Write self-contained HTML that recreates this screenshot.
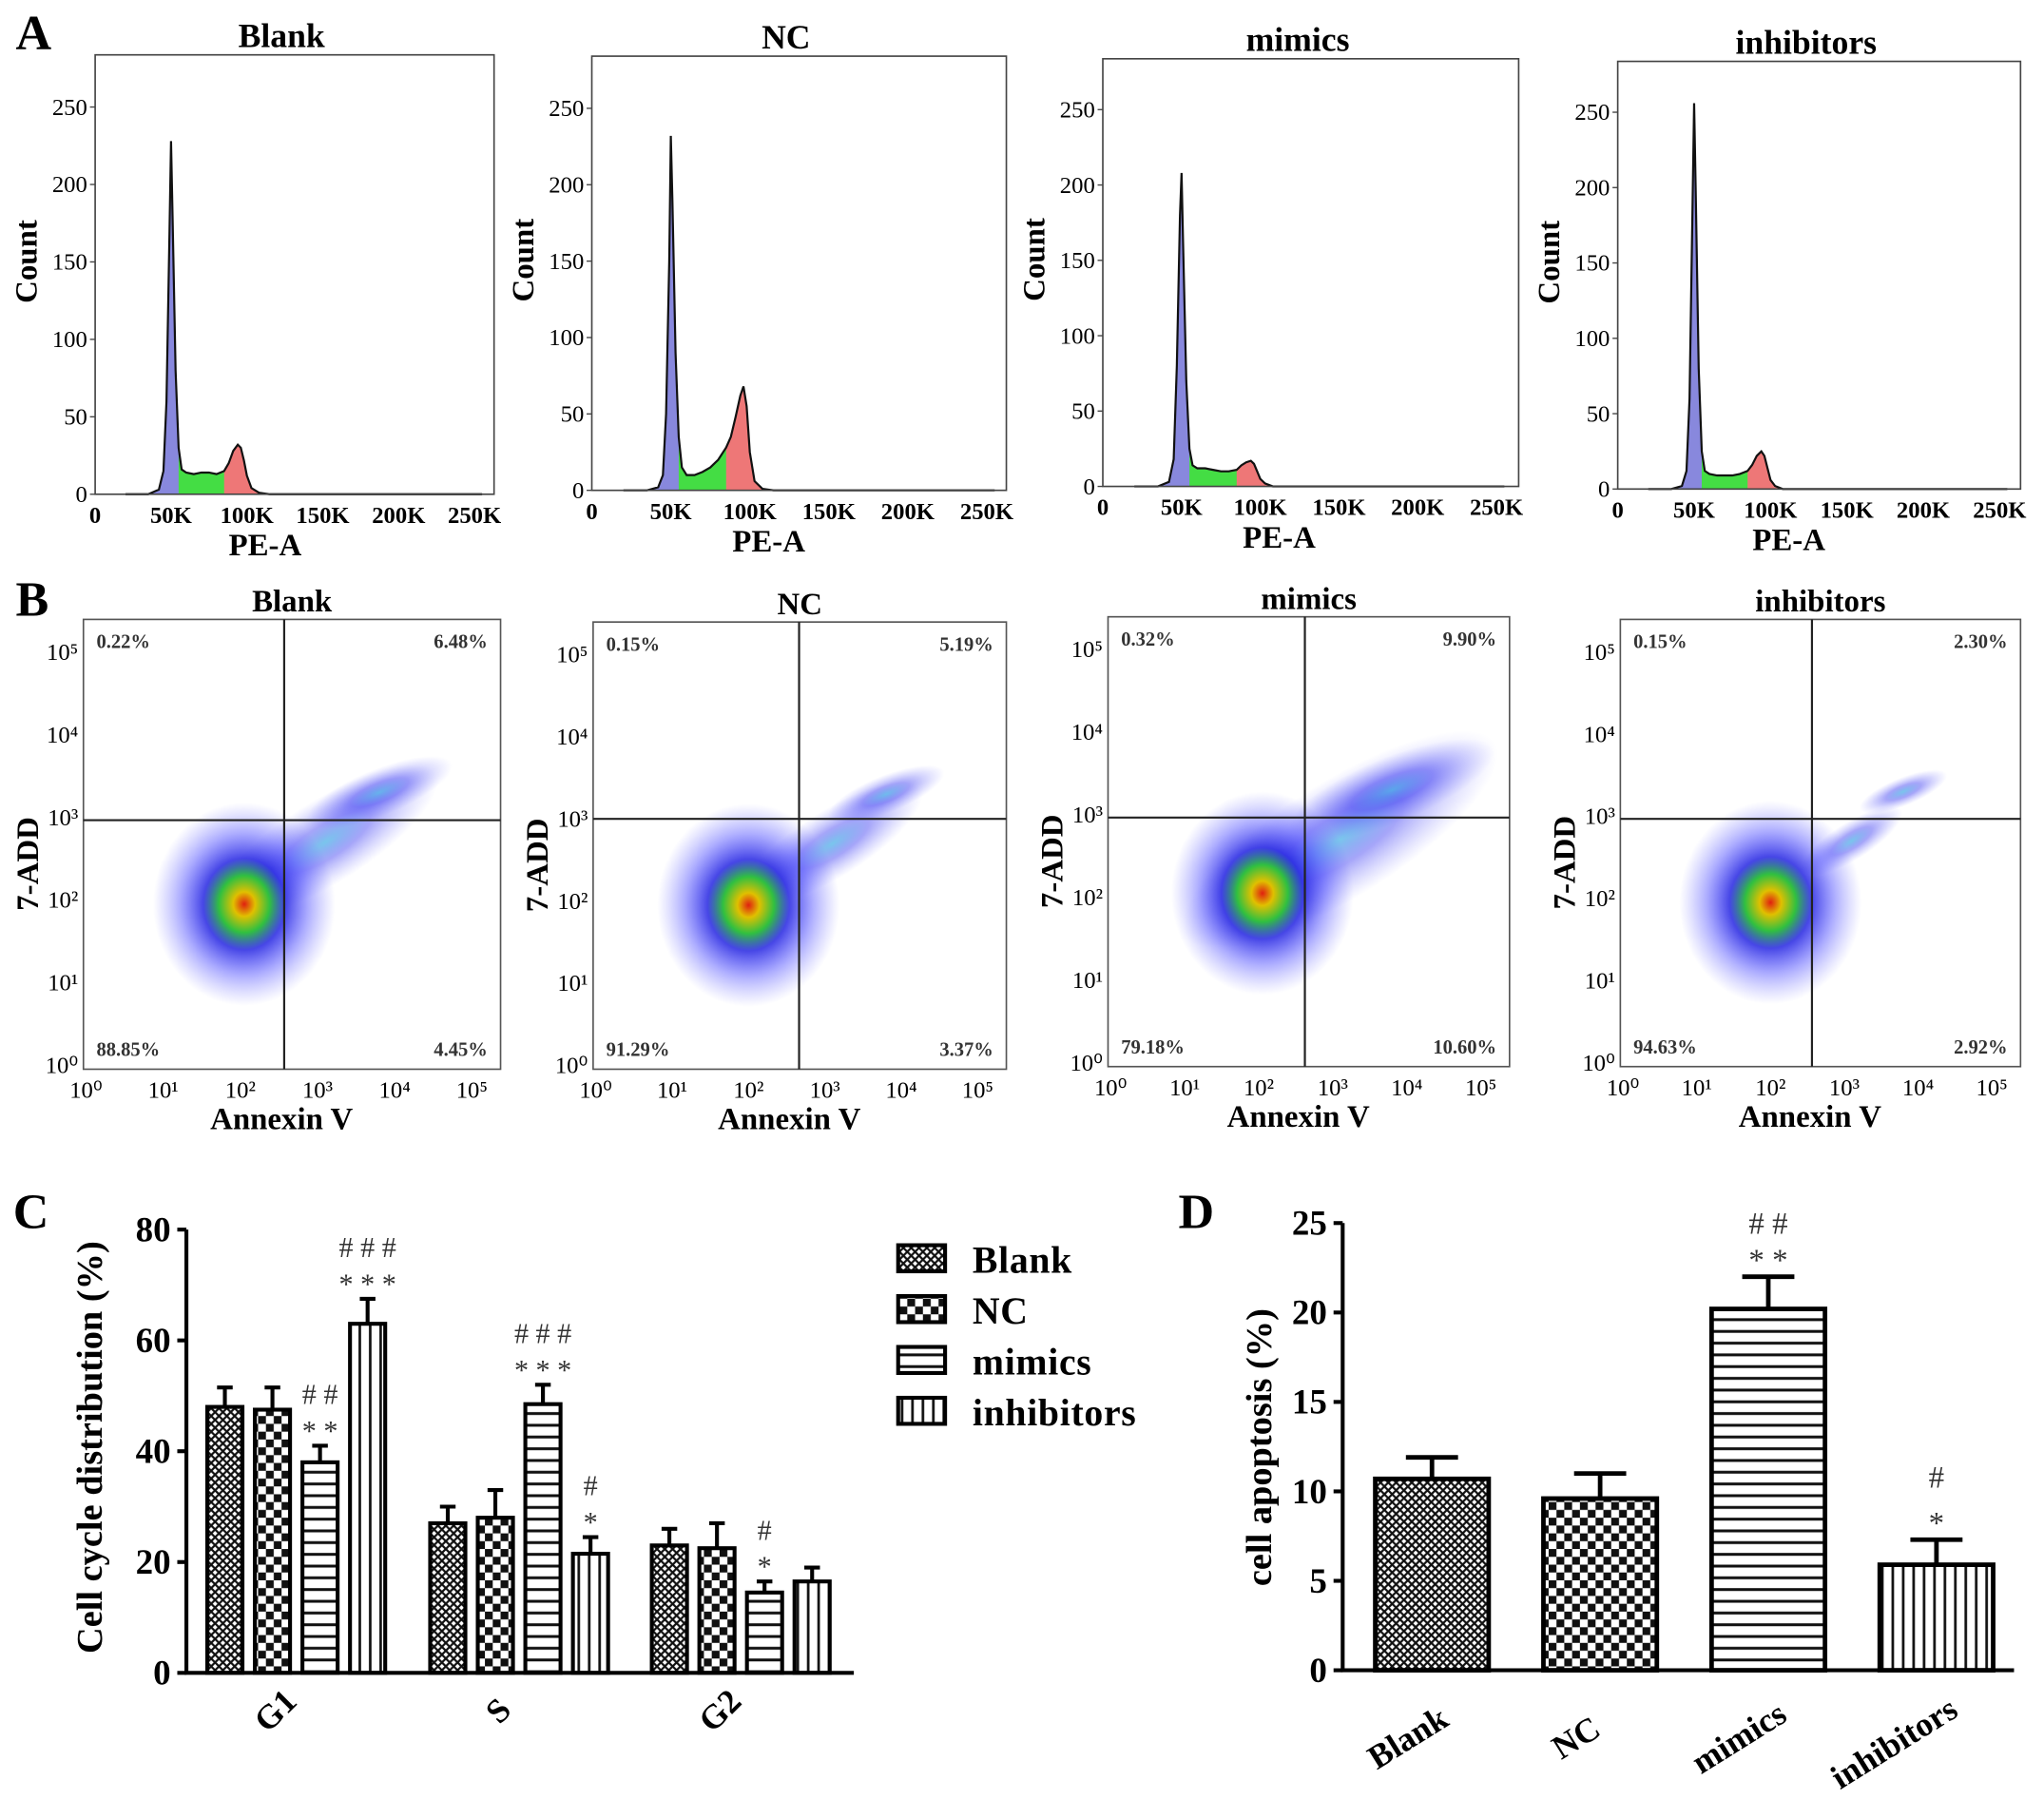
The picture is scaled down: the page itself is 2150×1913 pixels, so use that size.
<!DOCTYPE html>
<html><head><meta charset="utf-8"><style>
html,body{margin:0;padding:0;background:#fff}
svg{display:block;font-family:"Liberation Serif",serif;font-weight:bold}
</style></head><body>
<svg id="fig" xmlns="http://www.w3.org/2000/svg" width="2150" height="1913" viewBox="0 0 1568 1395">
<defs>
<pattern id="pBlank" width="6" height="6" patternUnits="userSpaceOnUse"><rect width="6" height="6" fill="#fff"/><path d="M0,0L6,6M6,0L0,6" stroke="#111" stroke-width="1.6"/></pattern>
<pattern id="pNC" width="12" height="12" patternUnits="userSpaceOnUse"><rect width="12" height="12" fill="#fff"/><rect width="6" height="6" fill="#111"/><rect x="6" y="6" width="6" height="6" fill="#111"/></pattern>
<pattern id="pMim" width="8" height="9" patternUnits="userSpaceOnUse"><rect width="8" height="9" fill="#fff"/><rect y="3" width="8" height="2.2" fill="#111"/></pattern>
<pattern id="pInh" width="8" height="8" patternUnits="userSpaceOnUse"><rect width="8" height="8" fill="#fff"/><rect x="3" width="2" height="8" fill="#111"/></pattern>
<radialGradient id="blob"><stop offset="0" stop-color="#e02010"/><stop offset="0.12" stop-color="#e0c000"/><stop offset="0.28" stop-color="#30c040"/><stop offset="0.45" stop-color="#1818e0" stop-opacity="0.8"/><stop offset="0.7" stop-color="#3030ff" stop-opacity="0.4"/><stop offset="1" stop-color="#6060ff" stop-opacity="0"/></radialGradient>
<radialGradient id="streak"><stop offset="0" stop-color="#20a0e0" stop-opacity="0.6"/><stop offset="0.4" stop-color="#2020f0" stop-opacity="0.4"/><stop offset="1" stop-color="#6060ff" stop-opacity="0"/></radialGradient>
</defs>
<g id="root"></g>
</svg>
<script>
// ===== Panel A data =====
const histK = [20,35,42,45,47,49,50,51,53,55,57,60,65,70,75,80,85,88,91,94,96,98,100,103,108,115,130,255];
const histBlank = [0,0,3,15,60,170,228,180,80,30,16,14,13,14,14,13,15,20,28,32,30,22,12,4,1,0,0,0];
const histNC = [0,0,2,10,50,150,232,190,90,35,15,10,10,12,15,20,28,35,48,62,68,55,25,6,1,0,0,0];
const histMimics = [0,0,3,18,80,180,208,160,70,25,14,12,12,11,10,10,11,14,16,17,15,10,5,2,0,0,0,0];
const histInh = [0,0,2,12,60,190,256,200,80,25,12,10,9,9,9,10,12,16,22,25,22,14,6,2,0,0,0,0];
const histTicksY = [0,50,100,150,200,250];
const histTicksX = [0,50,100,150,200,250];
const groupNames = ["Blank","NC","mimics","inhibitors"];
// ===== Panel B data =====
const quadLL = ["88.85%","91.29%","79.18%","94.63%"];
const quadLR = ["4.45%","3.37%","10.60%","2.92%"];
const quadUL = ["0.22%","0.15%","0.32%","0.15%"];
const quadUR = ["6.48%","5.19%","9.90%","2.30%"];
const clusterLogX = [2.05,2.0,2.05,2.0];
const clusterLogY = [1.95,1.95,2.05,1.95];
const streakSize = [1.0,0.8,1.4,0.45];
// ===== Panel C data =====
const phases = ["G1","S","G2"];
const cBlank = [48,27,23];
const cNC = [47.5,28,22.5];
const cMimics = [38,48.5,14.5];
const cInh = [63,21.5,16.5];
const cErrBlank = [3.5,3,3];
const cErrNC = [4,5,4.5];
const cErrMimics = [3,3.5,2];
const cErrInh = [4.5,3,2.5];
const cTicks = [0,20,40,60,80];
// ===== Panel D data =====
const dVals = [10.7,9.6,20.2,5.9];
const dErr = [1.2,1.4,1.8,1.4];
const dTicks = [0,5,10,15,20,25];

const NS="http://www.w3.org/2000/svg";
const root=document.getElementById('root');
function el(tag,attrs,parent,txt){const e=document.createElementNS(NS,tag);for(const k in attrs)e.setAttribute(k,attrs[k]);if(txt!==undefined)e.textContent=txt;(parent||root).appendChild(e);return e;}

[["A",12,38],["B",12,472],["C",10,942],["D",904,942]].forEach(l=>{
 const t=el('text',{x:l[1],y:l[2],'font-size':38},root,l[0]);
 
 
});

// ===== Panel A =====
const histData=[histBlank,histNC,histMimics,histInh];
const histBoxes=[{x0:73,x1:379,yt:42,y0:379,y250:82,k250:364},{x0:454,x1:772,yt:43,y0:376,y250:83,k250:757},{x0:846,x1:1165,yt:45,y0:373,y250:84,k250:1148},{x0:1241,x1:1550,yt:47,y0:375,y250:86,k250:1534}];
histBoxes.forEach((b,i)=>{
 const g=el('g',{});
 
 
 const xs=k=>b.x0+(b.k250-b.x0)*k/250;
 const ys=c=>b.y0-(b.y0-b.y250)*c/250;
 const t=el('text',{x:(b.x0+b.x1)/2-10,y:b.yt-6,'text-anchor':'middle','font-size':26},g,groupNames[i]);
 
 
 const d=histData[i];
 const pts=histK.map((k,j)=>[xs(k),ys(d[j])]);
 function area(lo,hi,col){let p=[];histK.forEach((k,j)=>{if(k>=lo&&k<=hi)p.push(pts[j]);});if(p.length<2)return;
  let s='M'+p[0][0]+','+b.y0+p.map(q=>'L'+q[0]+','+q[1]).join('')+'L'+p[p.length-1][0]+','+b.y0+'Z';
  const a=el('path',{d:s,fill:col},g);
  
  }
 area(0,57,'#8888dd');area(55,88,'#44dd44');area(85,110,'#ee7777');
 const line=el('path',{d:'M'+pts.map(p=>p.join(',')).join('L'),fill:'none',stroke:'#111','stroke-width':1.6},g);
 
 
 const bx=el('rect',{x:b.x0,y:b.yt,width:b.x1-b.x0,height:b.y0-b.yt,fill:'none',stroke:'#444','stroke-width':1.2},g);
 
 
 histTicksY.forEach(v=>{const tt=el('text',{x:b.x0-6,y:ys(v)+6,'text-anchor':'end','font-size':18,'font-weight':'normal'},g,String(v));
  
  el('line',{x1:b.x0-4,x2:b.x0,y1:ys(v),y2:ys(v),stroke:'#444'},g);});
 histTicksX.forEach(v=>{const tt=el('text',{x:xs(v),y:b.y0+22,'text-anchor':'middle','font-size':18},g,v===0?'0':v+'K');
  });
 const xl=el('text',{x:xs(112),y:b.y0+47,'text-anchor':'middle','font-size':24},g,'PE-A');
 
 const cy=(b.yt+b.y0)/2-10;
 const yl=el('text',{x:b.x0-45,y:cy,'text-anchor':'middle','font-size':24,transform:`rotate(-90 ${b.x0-45} ${cy})`},g,'Count');
 
});

// ===== Panel B =====
const scBoxes=[{x0:64,x1:384,yt:475,yb:820,qx:218,qy:629},{x0:455,x1:772,yt:477,yb:820,qx:613,qy:628},{x0:850,x1:1158,yt:473,yb:818,qx:1001,qy:627},{x0:1243,x1:1550,yt:475,yb:818,qx:1390,qy:628}];
const sup=['⁰','¹','²','³','⁴','⁵'];
scBoxes.forEach((b,i)=>{
 const g=el('g',{});
 
 
 const lx0=b.x0+2,lx5=b.x1-22,ly0=b.yb-3,ly5=b.yt+25;
 const xs=v=>lx0+(lx5-lx0)*v/5, ys=v=>ly0-(ly0-ly5)*v/5;
 const t=el('text',{x:(b.x0+b.x1)/2,y:b.yt-6,'text-anchor':'middle','font-size':24},g,groupNames[i]);
 
 const cx=xs(clusterLogX[i]),cy=ys(clusterLogY[i]);
 const s=streakSize[i];
 const st=el('ellipse',{cx:xs(3.1),cy:ys(2.7),rx:100*s,ry:32*s,fill:'url(#streak)',transform:`rotate(-32 ${xs(3.1)} ${ys(2.7)})`},g);
 
 const st2=el('ellipse',{cx:xs(3.8),cy:ys(3.3),rx:60*Math.max(s,0.6),ry:18*Math.max(s,0.6),fill:'url(#streak)',transform:`rotate(-22 ${xs(3.8)} ${ys(3.3)})`},g);
 
 const bl=el('ellipse',{cx:cx,cy:cy,rx:70,ry:78,fill:'url(#blob)'},g);
 
 const bx=el('rect',{x:b.x0,y:b.yt,width:b.x1-b.x0,height:b.yb-b.yt,fill:'none',stroke:'#555','stroke-width':1.2},g);
 
 const q1=el('line',{x1:b.qx,x2:b.qx,y1:b.yt,y2:b.yb,stroke:'#222','stroke-width':1.6},g);
 
 const q2=el('line',{x1:b.x0,x2:b.x1,y1:b.qy,y2:b.qy,stroke:'#222','stroke-width':1.6},g);
 
 [[quadUL[i],b.x0+10,b.yt+22,'start'],[quadUR[i],b.x1-10,b.yt+22,'end'],[quadLL[i],b.x0+10,b.yb-10,'start'],[quadLR[i],b.x1-10,b.yb-10,'end']].forEach(q=>{
  const tq=el('text',{x:q[1],y:q[2],'text-anchor':q[3],'font-size':15,fill:'#333'},g,q[0]);
  });
 for(let v=0;v<=5;v++){
  const tx=el('text',{x:xs(v),y:b.yb+22,'text-anchor':'middle','font-size':18,'font-weight':'normal'},g,'10'+sup[v]);
  
  const ty=el('text',{x:b.x0-4,y:ys(v)+6,'text-anchor':'end','font-size':18,'font-weight':'normal'},g,'10'+sup[v]);
  
 }
 const xl=el('text',{x:(b.x0+b.x1)/2-8,y:b.yb+46,'text-anchor':'middle','font-size':24},g,'Annexin V');
 
 const yy=(b.yt+b.yb)/2+15;
 const yl=el('text',{x:b.x0-35,y:yy,'text-anchor':'middle','font-size':24,transform:`rotate(-90 ${b.x0-35} ${yy})`},g,'7-ADD');
 
});

// ===== Panel C =====
(function(){
 const g=el('g',{});
 
 const ax=143,y0=1283,y80=943,xEnd=655;
 const ys=v=>y0-(y0-y80)*v/80;
 const groupStart=[159,330,500],step=36.5,bw=27;
 const series=[[cBlank,cErrBlank,'pBlank','blank'],[cNC,cErrNC,'pNC','nc'],[cMimics,cErrMimics,'pMim','mimics'],[cInh,cErrInh,'pInh','inhibitors']];
 const marks={"0-2":["# #","* *"],"0-3":["# # #","* * *"],"1-2":["# # #","* * *"],"1-3":["#","*"],"2-2":["#","*"]};
 phases.forEach((p,pi)=>{
  series.forEach((s,si)=>{
   const x=groupStart[pi]+si*step, v=s[0][pi], e=s[1][pi];
   const top=ys(v+e);
   const eb=el('path',{d:`M${x+bw/2},${ys(v)}V${top}M${x+bw/2-6},${top}H${x+bw/2+6}`,stroke:'#000','stroke-width':3,fill:'none'},g);
   
   const r=el('rect',{x:x,y:ys(v),width:bw,height:y0-ys(v),fill:`url(#${s[2]})`,stroke:'#000','stroke-width':3},g);
   
   const m=marks[pi+'-'+si];
   if(m){
    const a=el('text',{x:x+bw/2,y:top-32,'text-anchor':'middle','font-size':22,'font-weight':'normal',fill:'#333'},g,m[0]);
    
    const b2=el('text',{x:x+bw/2,y:top-4,'text-anchor':'middle','font-size':22,'font-weight':'normal',fill:'#333'},g,m[1]);
    
   }
  });
  const cx=groupStart[pi]+step*1.5+bw/2-10;
  const xl=el('text',{x:cx,y:1318,'text-anchor':'middle','font-size':26,transform:`rotate(-45 ${cx} ${1318})`},g,p);
  
 });
 const axl=el('path',{d:`M${ax},${y80}V${y0}H${xEnd}`,stroke:'#000','stroke-width':3,fill:'none'},g);
 
 cTicks.forEach(v=>{el('line',{x1:ax-7,x2:ax,y1:ys(v),y2:ys(v),stroke:'#000','stroke-width':3},g);
  const t=el('text',{x:ax-12,y:ys(v)+9,'text-anchor':'end','font-size':27},g,String(v));
  });
 const yl=el('text',{x:78,y:1110,'text-anchor':'middle','font-size':28,transform:'rotate(-90 78 1110)'},g,'Cell cycle distribution (%)');
 
 series.forEach((s,si)=>{
  const y=955+si*39;
  const lb=el('rect',{x:689,y:y,width:36,height:20,fill:`url(#${s[2]})`,stroke:'#000','stroke-width':3},g);
  
  const lt=el('text',{x:746,y:y+21,'font-size':29,'letter-spacing':'0.5'},g,groupNames[si]);
  
 });
})();

// ===== Panel D =====
(function(){
 const g=el('g',{});
 
 const ax=1030,y0=1281,y25=938;
 const ys=v=>y0-(y0-y25)*v/25;
 const starts=[1055,1184,1313,1442],bw=87;
 const pats=['pBlank','pNC','pMim','pInh'];
 const marks={2:["# #","* *"],3:["#","*"]};
 dVals.forEach((v,i)=>{
  const x=starts[i],top=ys(v+dErr[i]);
  const eb=el('path',{d:`M${x+bw/2},${ys(v)}V${top}M${x+bw/2-20},${top}H${x+bw/2+20}`,stroke:'#000','stroke-width':3.5,fill:'none'},g);
  
  const r=el('rect',{x:x,y:ys(v),width:bw,height:y0-ys(v),fill:`url(#${pats[i]})`,stroke:'#000','stroke-width':3.5},g);
  
  if(marks[i]){
   const a=el('text',{x:x+bw/2,y:top-(i===3?40:33),'text-anchor':'middle','font-size':24,'font-weight':'normal',fill:'#333'},g,marks[i][0]);
   
   const b2=el('text',{x:x+bw/2,y:top-5,'text-anchor':'middle','font-size':24,'font-weight':'normal',fill:'#333'},g,marks[i][1]);
   
  }
  const cx=x+bw/2-10-(i===3?18:i===2?8:4),cy=1340+(i===3?4:0);
  const xl=el('text',{x:cx,y:cy,'text-anchor':'middle','font-size':26,transform:`rotate(-32 ${cx} ${cy})`},g,groupNames[i]);
  
 });
 const axl=el('path',{d:`M${ax},${y25}V${y0}H1545`,stroke:'#000','stroke-width':3,fill:'none'},g);
 
 dTicks.forEach(v=>{el('line',{x1:ax-7,x2:ax,y1:ys(v),y2:ys(v),stroke:'#000','stroke-width':3},g);
  const t=el('text',{x:ax-12,y:ys(v)+9,'text-anchor':'end','font-size':27},g,String(v));
  });
 const yl=el('text',{x:975,y:1110,'text-anchor':'middle','font-size':28,transform:'rotate(-90 975 1110)'},g,'cell apoptosis (%)');
 
})();
</script>
</body></html>
